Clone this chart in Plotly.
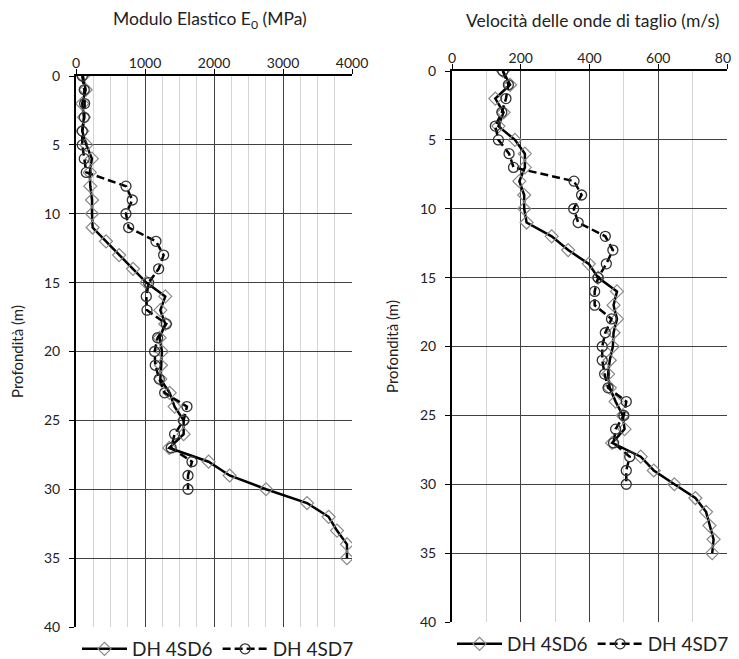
import plotly.graph_objects as go

depth6 = list(range(0, 36))
depth7 = list(range(0, 31))

e0_4sd6 = [100, 140, 90, 115, 90, 150, 230, 200, 207, 232, 232, 241, 435, 625, 826, 1019,
           1294, 1222, 1294, 1212, 1246, 1231, 1222, 1357, 1429, 1560, 1560, 1352, 1922,
           2226, 2754, 3348, 3661, 3782, 3927, 3927]
e0_4sd7 = [91, 120, 125, 120, 91, 91, 120, 149, 724, 816, 724, 763, 1159, 1270, 1198, 1053,
           1019, 1029, 1309, 1183, 1139, 1149, 1207, 1285, 1608, 1560, 1429, 1380, 1681,
           1623, 1623]

vs_4sd6 = [148, 169, 126, 150, 135, 183, 212, 212, 196, 210, 210, 217, 290, 338, 398, 425,
           480, 470, 480, 470, 468, 459, 454, 459, 476, 497, 502, 466, 549, 587, 647, 708,
           739, 749, 761, 757]
vs_4sd7 = [148, 164, 157, 145, 126, 135, 166, 179, 355, 377, 354, 367, 446, 468, 449, 425,
           415, 415, 464, 446, 437, 437, 444, 454, 507, 500, 476, 470, 517, 507, 507]

names = ["DH 4SD6", "DH 4SD7"]
title_left = "Modulo Elastico E<sub>0</sub> (MPa)"
title_right = "Velocità delle onde di taglio (m/s)"
ytitle = "Profondità (m)"

FONT = "Lato, Liberation Sans, sans-serif"
TXT = "#222222"

fig = go.Figure()

def add_pair(xa, ya, leg, x6, x7):
    fig.add_trace(go.Scatter(x=x6, y=depth6, name=names[0], mode="lines+markers",
                             line=dict(color="black", width=2.5),
                             marker=dict(symbol="diamond-open", size=10, color="#888888",
                                         line=dict(width=1.2)),
                             xaxis=xa, yaxis=ya, legend=leg))
    fig.add_trace(go.Scatter(x=x7, y=depth7, name=names[1], mode="lines+markers",
                             line=dict(color="black", width=2.5, dash="8px,4px"),
                             marker=dict(symbol="circle-open", size=10, color="#333333",
                                         line=dict(width=1.3)),
                             xaxis=xa, yaxis=ya, legend=leg))

add_pair("x", "y", "legend", e0_4sd6, e0_4sd7)
add_pair("x2", "y2", "legend2", vs_4sd6, vs_4sd7)

OFF = 8  # page body margin
W, H = 739 - OFF, 659 - OFF
def px(xp):
    return (xp - OFF) / W
def py(yp):
    return 1 - (yp - OFF) / H

xcommon = dict(side="top", showline=True, linecolor="black", linewidth=2, mirror=False,
               showgrid=True, gridcolor="#404040", gridwidth=1, ticks="outside", ticklen=5,
               tickcolor="black", zeroline=False, automargin=False, ticklabelstandoff=-5,
               ticklabeloverflow="allow",
               tickfont=dict(family=FONT, size=14, color=TXT))
ycommon = dict(autorange=False, range=[40, 0], dtick=5, showline=True, linecolor="black",
               linewidth=2, showgrid=True, gridcolor="#404040", gridwidth=1,
               ticks="outside", ticklen=5, tickcolor="black", zeroline=False, automargin=False,
               ticklabelstandoff=6,
               tickfont=dict(family=FONT, size=14, color=TXT),
               title=dict(text=ytitle, font=dict(family=FONT, size=15, color=TXT), standoff=18))

legfont = dict(family=FONT, size=19, color=TXT)

fig.update_layout(
    width=W, height=H, margin=dict(l=0, r=0, t=0, b=0, autoexpand=False),
    paper_bgcolor="white", plot_bgcolor="white",
    font=dict(family=FONT, color=TXT),
    xaxis=dict(xcommon, domain=[px(76), px(352)], range=[0, 4000], dtick=1000, anchor="y",
               minor=dict(dtick=250, showgrid=True, gridcolor="#d4d4d4", gridwidth=1)),
    yaxis=dict(ycommon, domain=[py(627), py(76)], anchor="x"),
    xaxis2=dict(xcommon, domain=[px(452), px(727)], range=[0, 800.01], dtick=200, anchor="y2",
                minor=dict(dtick=100, showgrid=True, gridcolor="#d4d4d4", gridwidth=1)),
    yaxis2=dict(ycommon, domain=[py(622), py(71)], anchor="x2"),
    legend=dict(orientation="h", x=px(218), xanchor="center", y=py(649), yanchor="middle",
                font=legfont, bgcolor="rgba(0,0,0,0)", itemwidth=45),
    legend2=dict(orientation="h", x=px(593), xanchor="center", y=py(644), yanchor="middle",
                 font=legfont, bgcolor="rgba(0,0,0,0)", itemwidth=45),
    annotations=[
        dict(text=title_left, x=px(210), y=py(20), xref="paper", yref="paper",
             xanchor="center", yanchor="middle", showarrow=False,
             font=dict(family=FONT, size=17.5, color=TXT)),
        dict(text=title_right, x=px(592), y=py(20), xref="paper", yref="paper",
             xanchor="center", yanchor="middle", showarrow=False,
             font=dict(family=FONT, size=17.5, color=TXT)),
    ],
)

fig.write_html("out.html")
